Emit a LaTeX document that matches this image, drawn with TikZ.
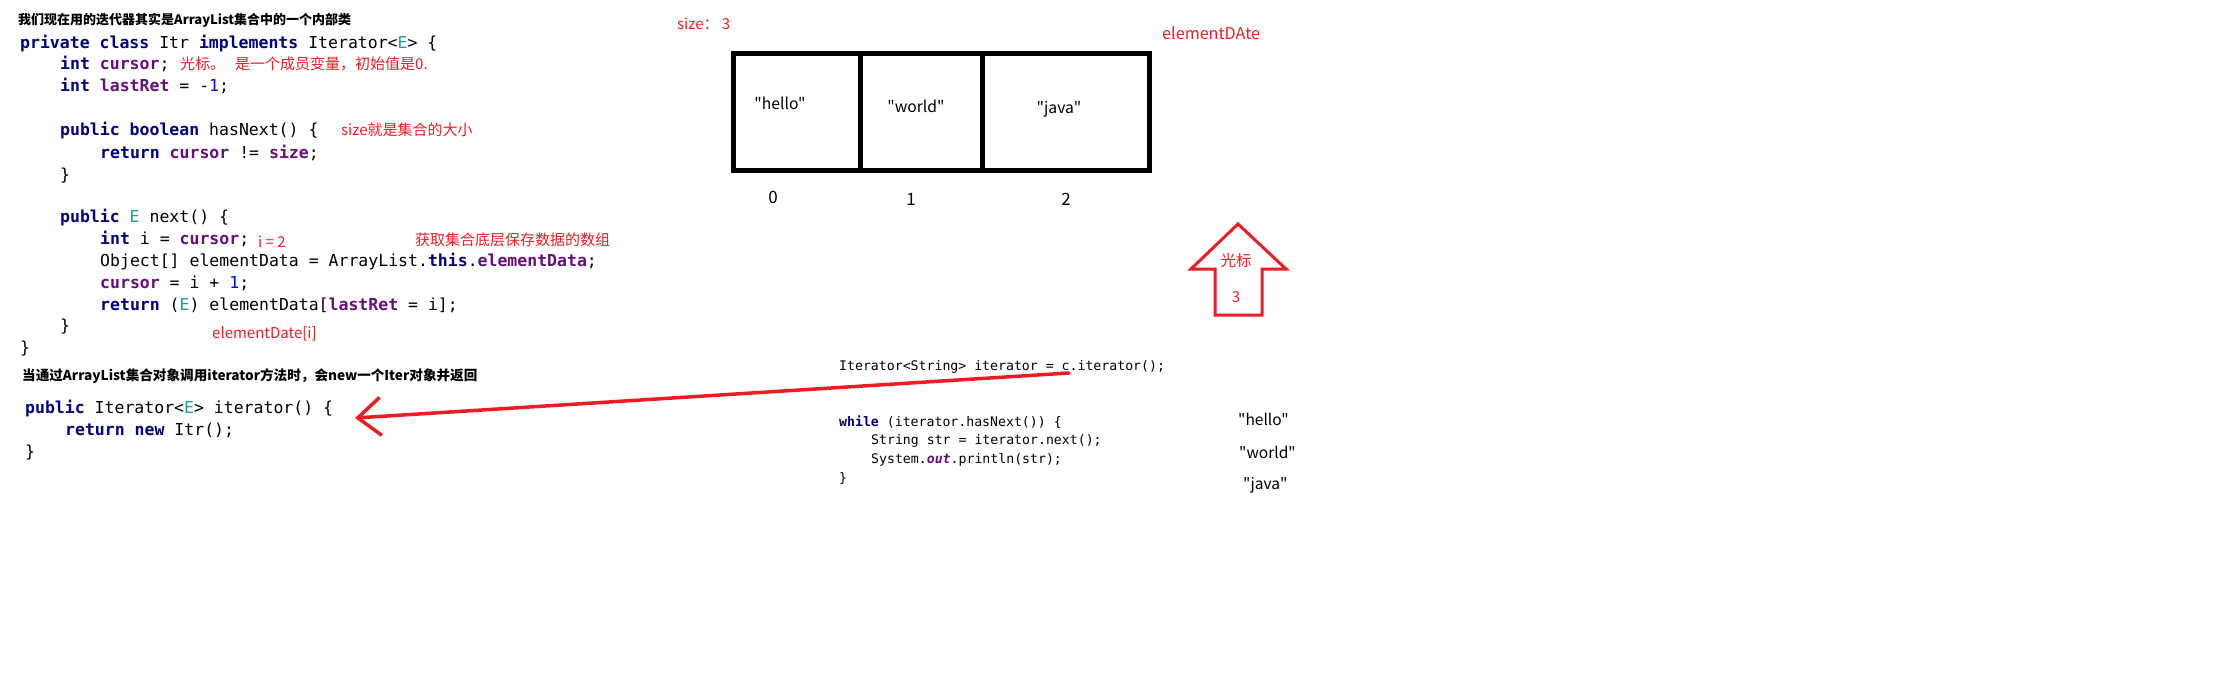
\documentclass[tikz,border=0pt]{standalone}
\usepackage{fontspec}
\setmainfont{Noto Sans CJK SC}
\newfontfamily\txtfont{Noto Sans CJK SC}
\setmonofont{DejaVu Sans Mono}
\usetikzlibrary{arrows.meta}
\definecolor{jkwc}{HTML}{000080}
\definecolor{jfldc}{HTML}{660E7A}
\definecolor{jtpc}{HTML}{20999D}
\definecolor{jnumc}{HTML}{0000FF}
\definecolor{annred}{HTML}{ED1C24}
\newcommand{\jkw}[1]{\textcolor{jkwc}{\bfseries #1}}
\newcommand{\jfld}[1]{\textcolor{jfldc}{\bfseries #1}}
\newcommand{\jfldi}[1]{\textcolor{jfldc}{\bfseries\itshape #1}}
\newcommand{\jtp}[1]{\textcolor{jtpc}{#1}}
\newcommand{\jnum}[1]{\textcolor{jnumc}{#1}}
\tikzset{
  codeline/.style={anchor=base west, inner sep=0pt, font=\ttfamily\fontsize{16.5}{16.5}\selectfont},
  smallcode/.style={anchor=base west, inner sep=0pt, font=\ttfamily\fontsize{13.2}{13.2}\selectfont},
  annot/.style={anchor=base west, inner sep=0pt, text=annred, font=\txtfont\fontsize{15}{15}\selectfont},
  headline/.style={anchor=base west, inner sep=0pt, font=\txtfont\bfseries\fontsize{13}{13}\selectfont},
  celltext/.style={anchor=base, inner sep=0pt, font=\txtfont\fontsize{15.7}{15.7}\selectfont},
  idxtext/.style={anchor=base, inner sep=0pt, font=\txtfont\fontsize{17}{17}\selectfont},
  listtext/.style={anchor=base west, inner sep=0pt, font=\txtfont\fontsize{15.5}{15.5}\selectfont},
  redline/.style={draw=annred, line width=3.5pt, line cap=round, line join=round},
  boxline/.style={draw=black, line width=5pt}
}
\begin{document}
\begin{tikzpicture}[x=1pt, y=-1pt]
\useasboundingbox (0,0) rectangle (2220,683);
% headings
\node[headline] (h1) at (18,24) {我们现在用的迭代器其实是ArrayList集合中的一个内部类};
\node[headline, font=\txtfont\bfseries\fontsize{13.6}{13.6}\selectfont] (h2) at (22,380) {当通过ArrayList集合对象调用iterator方法时，会new一个Iter对象并返回};
% code block 1
\node[codeline] (c1) at (20,48) {\jkw{private} \jkw{class} Itr \jkw{implements} Iterator<\jtp{E}> \{};
\node[codeline] (c2) at (60,69) {\jkw{int} \jfld{cursor};};
\node[codeline] (c3) at (60,91) {\jkw{int} \jfld{lastRet} = -\jnum{1};};
\node[codeline] (c5) at (60,135) {\jkw{public} \jkw{boolean} hasNext() \{};
\node[codeline] (c6) at (100,158) {\jkw{return} \jfld{cursor} != \jfld{size};};
\node[codeline] (c7) at (60,180) {\}};
\node[codeline] (c9) at (60,222) {\jkw{public} \jtp{E} next() \{};
\node[codeline] (c10) at (100,244) {\jkw{int} i = \jfld{cursor};};
\node[codeline] (c11) at (100,266) {Object[] elementData = ArrayList.\jkw{this}.\jfld{elementData};};
\node[codeline] (c12) at (100,288) {\jfld{cursor} = i + \jnum{1};};
\node[codeline] (c13) at (100,310) {\jkw{return} (\jtp{E}) elementData[\jfld{lastRet} = i];};
\node[codeline] (c14) at (60,331) {\}};
\node[codeline] (c15) at (20,353) {\}};
% annotations
\node[annot] (a1) at (180,69.5) {光标。\hspace{10pt}是一个成员变量，初始值是0.};
\node[annot] (a2) at (341,135.5) {size就是集合的大小};
\node[annot] (a3) at (258,247.5) {i = 2};
\node[annot] (a4) at (415,245.5) {获取集合底层保存数据的数组};
\node[annot] (a5) at (212,338.5) {elementDate[i]};
% code block 2
\node[codeline] (d1) at (25,413) {\jkw{public} Iterator<\jtp{E}> iterator() \{};
\node[codeline] (d2) at (65,435) {\jkw{return} \jkw{new} Itr();};
\node[codeline] (d3) at (25,457) {\}};
% array
\node[annot] (sz) at (677,29.5) {size： 3};
\node[annot, font=\txtfont\fontsize{16.2}{16.2}\selectfont] (ed) at (1162,39) {elementDAte};
\draw[boxline] (733.5,53.5) rectangle (1149.5,170.5);
\draw[boxline] (860,53.5) -- (860,173);
\draw[boxline] (982,53.5) -- (982,170.5);
\node[celltext] (v0) at (780,109) {"hello"};
\node[celltext] (v1) at (916,112) {"world"};
\node[celltext] (v2) at (1059,113) {"java"};
\node[idxtext] (i0) at (773,203) {0};
\node[idxtext] (i1) at (911,205) {1};
\node[idxtext] (i2) at (1066,205) {2};
% cursor arrow
\draw[draw=annred, line width=3pt, line join=miter]
  (1238,224) -- (1286,269) -- (1262,269) -- (1262,315) -- (1215,315) -- (1215,269) -- (1191,269) -- cycle;
\node[annot, anchor=base, font=\txtfont\fontsize{15.5}{15.5}\selectfont] (cur) at (1236,266.5) {光标};
\node[annot, anchor=base] (cur3) at (1236,302) {3};
% right code
\node[smallcode] (r1) at (839,370) {Iterator<String> iterator = c.iterator();};
\node[smallcode] (r2) at (839,426) {\jkw{while} (iterator.hasNext()) \{};
\node[smallcode] (r3) at (871,444) {String str = iterator.next();};
\node[smallcode] (r4) at (871,463) {System.\jfldi{out}.println(str);};
\node[smallcode] (r5) at (839,482) {\}};
\node[listtext] (o1) at (1238,425) {"hello"};
\node[listtext] (o2) at (1239,458) {"world"};
\node[listtext] (o3) at (1243,489) {"java"};
% red arrow
\coordinate (arrS) at (1069,373);
\coordinate (arrT) at (355,418);
\draw[redline, -{Straight Barb[length=23pt, width=38pt]}] (arrS) -- (arrT);
\end{tikzpicture}
\end{document}
